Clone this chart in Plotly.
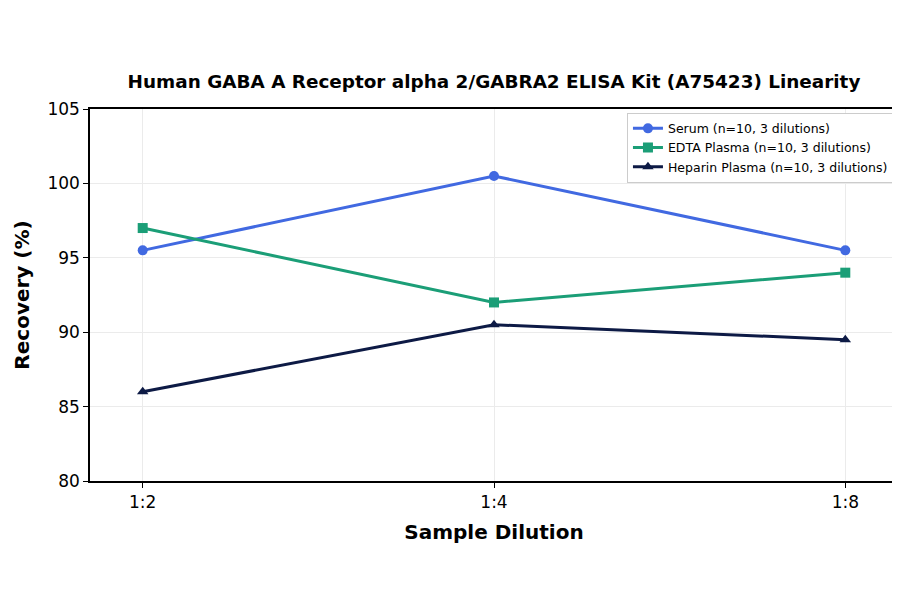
import plotly.graph_objects as go

dilutions = ["1:2", "1:4", "1:8"]
serum = [95.5, 100.5, 95.5]
edta = [97.0, 92.0, 94.0]
heparin = [86.0, 90.5, 89.5]
series_names = ["Serum (n=10, 3 dilutions)", "EDTA Plasma (n=10, 3 dilutions)",
                "Heparin Plasma (n=10, 3 dilutions)"]

xpos = list(range(len(dilutions)))
styles = [("#4169E1", "circle"), ("#1b9e77", "square"), ("#0d1a45", "triangle-up")]

fig = go.Figure()
for name, vals, (col, sym) in zip(series_names, [serum, edta, heparin], styles):
    fig.add_trace(go.Scatter(x=xpos, y=vals, name=name, mode="lines+markers",
                             line=dict(color=col, width=3),
                             marker=dict(color=col, symbol=sym, size=10)))

axis_common = dict(showline=True, linecolor="black", linewidth=1.5, mirror=True,
                   ticks="outside", ticklen=5, tickcolor="black", automargin=False,
                   showgrid=True, gridcolor="#ebebeb", zeroline=False,
                   tickfont=dict(size=17, color="black"))

fig.update_layout(
    width=900, height=594,
    paper_bgcolor="white", plot_bgcolor="white",
    font=dict(family="DejaVu Sans", color="black"),
    margin=dict(l=82, r=10, t=101, b=121),
    title=dict(text="<b>Human GABA A Receptor alpha 2/GABRA2 ELISA Kit (A75423) Linearity</b>",
               x=0.54, xanchor="center", y=0.877, yanchor="middle", font=dict(size=18.4)),
    xaxis=dict(axis_common, tickvals=xpos, ticktext=dilutions, range=[-0.15, 2.15],
               title=dict(text="<b>Sample Dilution</b>", font=dict(size=20), standoff=14)),
    yaxis=dict(axis_common, range=[80, 105], dtick=5,
               title=dict(text="<b>Recovery (%)</b>", font=dict(size=20), standoff=12)),
    legend=dict(x=0.995, y=0.99, xanchor="right", yanchor="top",
                bgcolor="white", bordercolor="#cccccc", borderwidth=1,
                font=dict(size=12.5), tracegroupgap=0),
)

fig.write_html("out.html")
